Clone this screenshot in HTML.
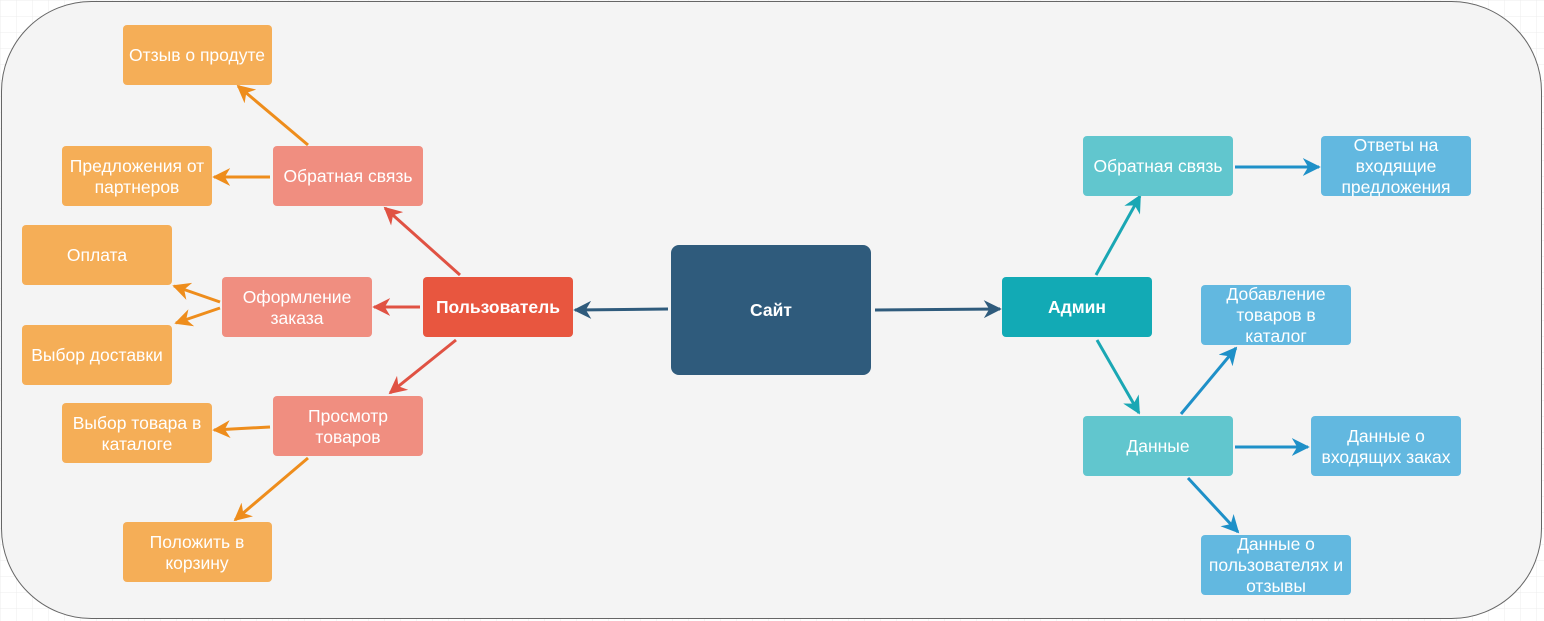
<!DOCTYPE html>
<html><head><meta charset="utf-8"><style>
html,body{margin:0;padding:0;background:#fff}
svg{display:block}
text{font-family:"Liberation Sans",Arial,sans-serif;font-size:17.5px;fill:#fff;text-anchor:middle}
</style></head><body>
<svg width="1544" height="621" viewBox="0 0 1544 621">
<defs>
<pattern id="g" width="16" height="16" patternUnits="userSpaceOnUse"><path d="M16 0H0V16" fill="none" stroke="#ececec" stroke-width="1"/></pattern>
<marker id="mo" viewBox="0 0 10 10" refX="9" refY="5" markerWidth="6" markerHeight="6" orient="auto"><path d="M0 0L10 5L0 10L3 5z" fill="#ee8d1c"/></marker>
<marker id="mr" viewBox="0 0 10 10" refX="9" refY="5" markerWidth="6" markerHeight="6" orient="auto"><path d="M0 0L10 5L0 10L3 5z" fill="#e05243"/></marker>
<marker id="md" viewBox="0 0 10 10" refX="9" refY="5" markerWidth="6" markerHeight="6" orient="auto"><path d="M0 0L10 5L0 10L3 5z" fill="#2f5b7c"/></marker>
<marker id="mt" viewBox="0 0 10 10" refX="9" refY="5" markerWidth="6" markerHeight="6" orient="auto"><path d="M0 0L10 5L0 10L3 5z" fill="#1aa7b4"/></marker>
<marker id="mb" viewBox="0 0 10 10" refX="9" refY="5" markerWidth="6" markerHeight="6" orient="auto"><path d="M0 0L10 5L0 10L3 5z" fill="#1e90c8"/></marker>
</defs>
<rect width="1544" height="621" fill="url(#g)"/>
<rect x="1.5" y="1.5" width="1540" height="617" rx="90" fill="#f4f4f4" stroke="#666" stroke-width="1"/>
<g stroke-width="3" fill="none">
<line x1="668" y1="309" x2="575" y2="310" stroke="#2f5b7c" marker-end="url(#md)"/>
<line x1="875" y1="310" x2="1000" y2="309" stroke="#2f5b7c" marker-end="url(#md)"/>
<line x1="460" y1="275" x2="385" y2="208" stroke="#e05243" marker-end="url(#mr)"/>
<line x1="420" y1="307" x2="374" y2="307" stroke="#e05243" marker-end="url(#mr)"/>
<line x1="456" y1="340" x2="390" y2="393" stroke="#e05243" marker-end="url(#mr)"/>
<line x1="308" y1="145" x2="238" y2="86" stroke="#ee8d1c" marker-end="url(#mo)"/>
<line x1="270" y1="177" x2="214" y2="177" stroke="#ee8d1c" marker-end="url(#mo)"/>
<line x1="220" y1="302" x2="174" y2="286" stroke="#ee8d1c" marker-end="url(#mo)"/>
<line x1="220" y1="308" x2="176" y2="323" stroke="#ee8d1c" marker-end="url(#mo)"/>
<line x1="270" y1="427" x2="214" y2="430" stroke="#ee8d1c" marker-end="url(#mo)"/>
<line x1="308" y1="458" x2="235" y2="520" stroke="#ee8d1c" marker-end="url(#mo)"/>
<line x1="1096" y1="275" x2="1140" y2="196" stroke="#1aa7b4" marker-end="url(#mt)"/>
<line x1="1097" y1="340" x2="1139" y2="413" stroke="#1aa7b4" marker-end="url(#mt)"/>
<line x1="1235" y1="167" x2="1319" y2="167" stroke="#1e90c8" marker-end="url(#mb)"/>
<line x1="1181" y1="414" x2="1236" y2="348" stroke="#1e90c8" marker-end="url(#mb)"/>
<line x1="1235" y1="447" x2="1308" y2="447" stroke="#1e90c8" marker-end="url(#mb)"/>
<line x1="1188" y1="478" x2="1238" y2="532" stroke="#1e90c8" marker-end="url(#mb)"/>
</g>
<g>
<rect x="123" y="25" width="149" height="60" rx="4" fill="#f5ae57"/><text x="197" y="61">Отзыв о продуте</text>
<rect x="62" y="146" width="150" height="60" rx="4" fill="#f5ae57"/><text x="137" y="172">Предложения от</text><text x="137" y="193">партнеров</text>
<rect x="273" y="146" width="150" height="60" rx="4" fill="#f08e80"/><text x="348" y="182">Обратная связь</text>
<rect x="22" y="225" width="150" height="60" rx="4" fill="#f5ae57"/><text x="97" y="261">Оплата</text>
<rect x="222" y="277" width="150" height="60" rx="4" fill="#f08e80"/><text x="297" y="303">Оформление</text><text x="297" y="324">заказа</text>
<rect x="423" y="277" width="150" height="60" rx="4" fill="#e8563f"/><text x="498" y="313" font-weight="bold">Пользователь</text>
<rect x="22" y="325" width="150" height="60" rx="4" fill="#f5ae57"/><text x="97" y="361">Выбор доставки</text>
<rect x="273" y="396" width="150" height="60" rx="4" fill="#f08e80"/><text x="348" y="422">Просмотр</text><text x="348" y="443">товаров</text>
<rect x="62" y="403" width="150" height="60" rx="4" fill="#f5ae57"/><text x="137" y="429">Выбор товара в</text><text x="137" y="450">каталоге</text>
<rect x="123" y="522" width="149" height="60" rx="4" fill="#f5ae57"/><text x="197" y="548">Положить в</text><text x="197" y="569">корзину</text>
<rect x="671" y="245" width="200" height="130" rx="8" fill="#2f5b7c"/><text x="771" y="316" font-weight="bold">Сайт</text>
<rect x="1002" y="277" width="150" height="60" rx="4" fill="#12aab5"/><text x="1077" y="313" font-weight="bold">Админ</text>
<rect x="1083" y="136" width="150" height="60" rx="4" fill="#61c6ce"/><text x="1158" y="172">Обратная связь</text>
<rect x="1321" y="136" width="150" height="60" rx="4" fill="#62b8e0"/><text x="1396" y="151">Ответы на</text><text x="1396" y="172">входящие</text><text x="1396" y="193">предложения</text>
<rect x="1201" y="285" width="150" height="60" rx="4" fill="#62b8e0"/><text x="1276" y="300">Добавление</text><text x="1276" y="321">товаров в</text><text x="1276" y="342">каталог</text>
<rect x="1083" y="416" width="150" height="60" rx="4" fill="#61c6ce"/><text x="1158" y="452">Данные</text>
<rect x="1311" y="416" width="150" height="60" rx="4" fill="#62b8e0"/><text x="1386" y="442">Данные о</text><text x="1386" y="463">входящих заках</text>
<rect x="1201" y="535" width="150" height="60" rx="4" fill="#62b8e0"/><text x="1276" y="550">Данные о</text><text x="1276" y="571">пользователях и</text><text x="1276" y="592">отзывы</text>
</g>
</svg>
</body></html>
